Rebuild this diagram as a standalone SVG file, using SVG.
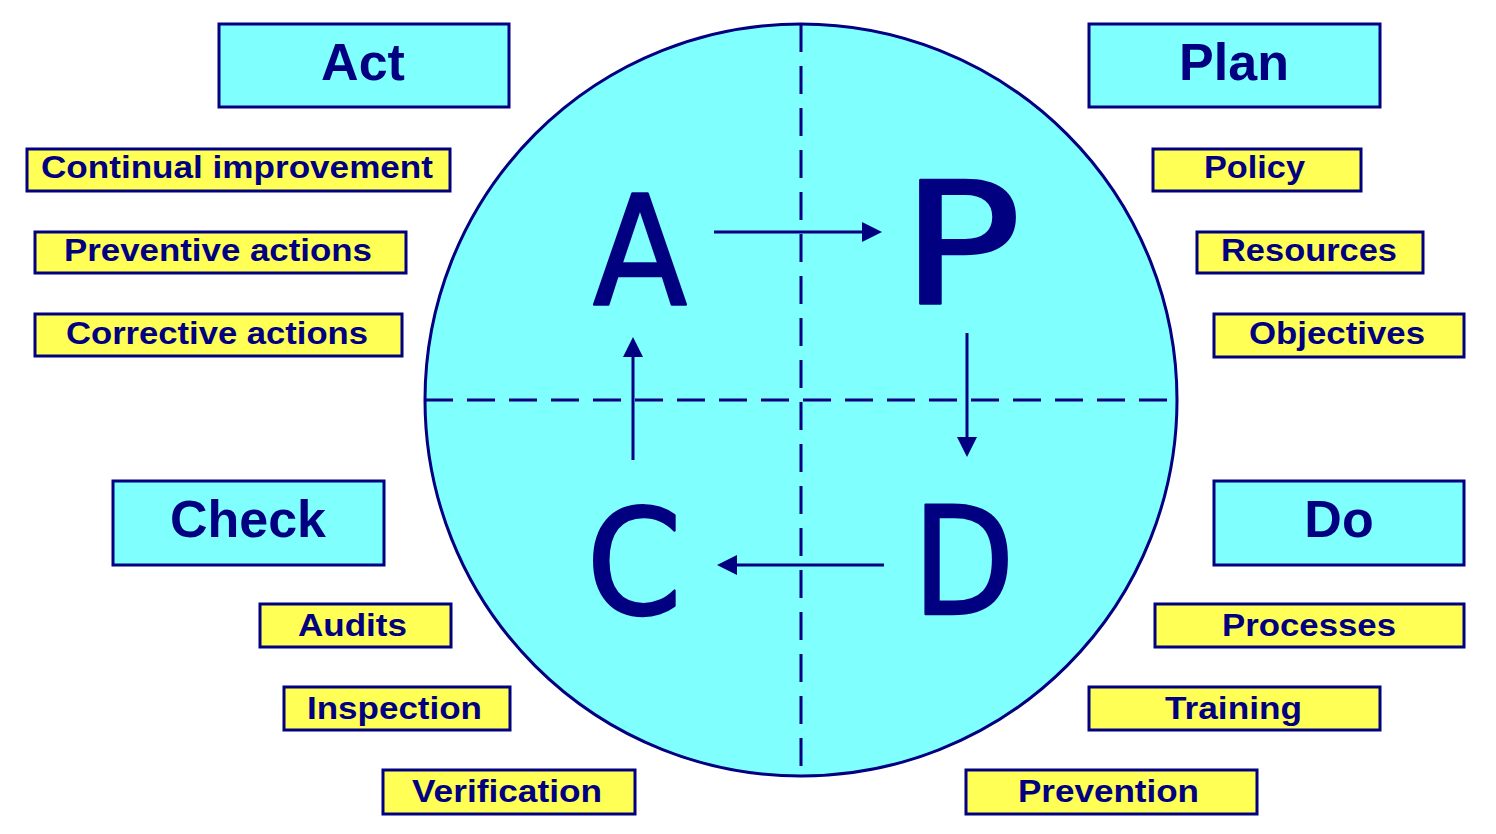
<svg xmlns="http://www.w3.org/2000/svg" width="1496" height="834" viewBox="0 0 1496 834">
<style>
.big{fill:#80FFFF;stroke:#000080;stroke-width:3}
.yel{fill:#FFFF55;stroke:#000080;stroke-width:3}
.bt{font-family:"Liberation Sans",Arial,sans-serif;font-weight:bold;font-size:52px;fill:#000080;text-anchor:middle}
.yt{font-family:"Liberation Sans",Arial,sans-serif;font-weight:bold;font-size:32px;fill:#000080}
.letter{font-family:"DejaVu Sans",Verdana,sans-serif;fill:#000080;stroke:#000080;stroke-width:2.5;stroke-linejoin:round}
.dash{stroke:#000080;stroke-width:3;stroke-dasharray:28 14;fill:none}
.arr{stroke:#000080;stroke-width:3;fill:none;marker-end:url(#ah)}
</style>
<defs>
<marker id="ah" viewBox="0 0 20 20" refX="10" refY="10" markerWidth="20" markerHeight="20" markerUnits="userSpaceOnUse" orient="auto">
<path d="M0,0 L20,10 L0,20 z" fill="#000080"/>
</marker>
</defs>
<rect width="1496" height="834" fill="#FFFFFF"/>

<g id="cycle">
<circle cx="801" cy="400" r="376" fill="#80FFFF" stroke="#000080" stroke-width="3"/>
<line class="dash" x1="425" y1="400" x2="1177" y2="400"/>
<line class="dash" x1="801" y1="24" x2="801" y2="776"/>
<text class="letter" transform="translate(593,304) scale(0.91,1)" font-size="151">A</text>
<text class="letter" transform="translate(901,304) scale(1.18,1)" font-size="169">P</text>
<text class="letter" transform="translate(586.5,613.5) scale(0.93,1)" font-size="147">C</text>
<text class="letter" transform="translate(912.6,614) scale(0.89,1)" font-size="149">D</text>
</g>

<g id="connectors">
<line class="arr" x1="714" y1="232" x2="872" y2="232"/>
<line class="arr" x1="967" y1="333" x2="967" y2="447"/>
<line class="arr" x1="884" y1="565" x2="727" y2="565"/>
<line class="arr" x1="633" y1="460" x2="633" y2="347"/>
</g>

<g id="act">
<rect class="big" x="219" y="24" width="290" height="83"/>
<text class="bt" x="363" y="80">Act</text>
</g>
<g id="plan">
<rect class="big" x="1089" y="24" width="291" height="83"/>
<text class="bt" x="1234" y="80">Plan</text>
</g>
<g id="check">
<rect class="big" x="113" y="481" width="271" height="84"/>
<text class="bt" x="248" y="537">Check</text>
</g>
<g id="do">
<rect class="big" x="1214" y="481" width="250" height="84"/>
<text class="bt" x="1339" y="537">Do</text>
</g>

<g id="continual-improvement">
<rect class="yel" x="27" y="149" width="423" height="42"/>
<text class="yt" x="41" y="178" textLength="392" lengthAdjust="spacingAndGlyphs">Continual improvement</text>
</g>
<g id="preventive-actions">
<rect class="yel" x="35" y="232" width="371" height="41"/>
<text class="yt" x="64" y="261" textLength="308" lengthAdjust="spacingAndGlyphs">Preventive actions</text>
</g>
<g id="corrective-actions">
<rect class="yel" x="35" y="314" width="367" height="42"/>
<text class="yt" x="66" y="344" textLength="302" lengthAdjust="spacingAndGlyphs">Corrective actions</text>
</g>

<g id="policy">
<rect class="yel" x="1153" y="149" width="208" height="42"/>
<text class="yt" x="1204" y="178" textLength="101" lengthAdjust="spacingAndGlyphs">Policy</text>
</g>
<g id="resources">
<rect class="yel" x="1197" y="232" width="226" height="41"/>
<text class="yt" x="1221" y="261" textLength="176" lengthAdjust="spacingAndGlyphs">Resources</text>
</g>
<g id="objectives">
<rect class="yel" x="1214" y="314" width="250" height="43"/>
<text class="yt" x="1249" y="344" textLength="176" lengthAdjust="spacingAndGlyphs">Objectives</text>
</g>

<g id="audits">
<rect class="yel" x="260" y="604" width="191" height="43"/>
<text class="yt" x="298" y="636" textLength="109" lengthAdjust="spacingAndGlyphs">Audits</text>
</g>
<g id="inspection">
<rect class="yel" x="284" y="687" width="226" height="43"/>
<text class="yt" x="307" y="719" textLength="175" lengthAdjust="spacingAndGlyphs">Inspection</text>
</g>
<g id="verification">
<rect class="yel" x="383" y="770" width="252" height="44"/>
<text class="yt" x="412" y="802" textLength="190" lengthAdjust="spacingAndGlyphs">Verification</text>
</g>

<g id="processes">
<rect class="yel" x="1155" y="604" width="309" height="43"/>
<text class="yt" x="1222" y="636" textLength="174" lengthAdjust="spacingAndGlyphs">Processes</text>
</g>
<g id="training">
<rect class="yel" x="1089" y="687" width="291" height="43"/>
<text class="yt" x="1165" y="719" textLength="137" lengthAdjust="spacingAndGlyphs">Training</text>
</g>
<g id="prevention">
<rect class="yel" x="966" y="770" width="291" height="44"/>
<text class="yt" x="1018" y="802" textLength="181" lengthAdjust="spacingAndGlyphs">Prevention</text>
</g>
</svg>
